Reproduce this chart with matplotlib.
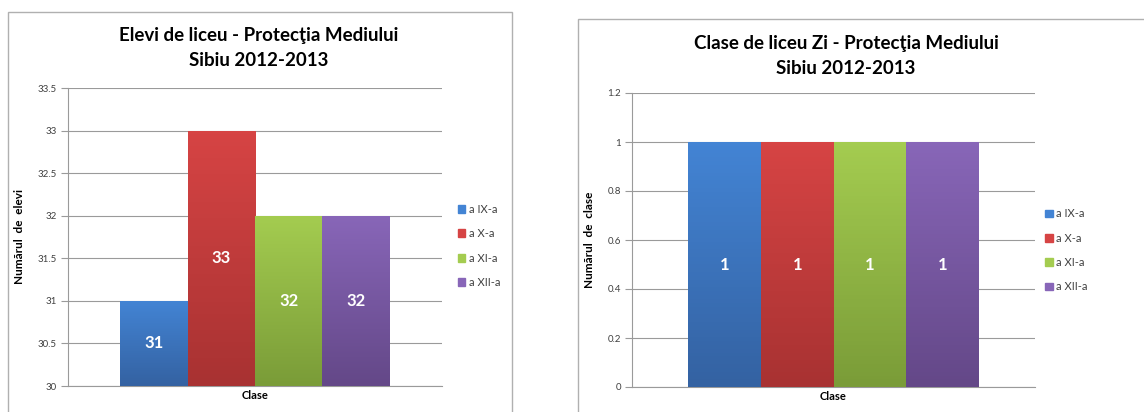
import matplotlib
matplotlib.use("Agg")
import matplotlib.pyplot as plt
import numpy as np
from matplotlib.patches import Rectangle, Patch
from matplotlib.colors import to_rgb

plt.rcParams['font.family'] = ['Lato', 'DejaVu Sans']

series = ["a IX-a", "a X-a", "a XI-a", "a XII-a"]
category = "Clase"
elevi = [31, 33, 32, 32]
clase = [1, 1, 1, 1]

top_colors = ["#4384d4", "#d64444", "#a4cc50", "#8866b8"]
bottom_colors = ["#3462a2", "#a83232", "#7a9c38", "#644888"]
grid_col = "#9a9a9a"
text_col = "#404040"


def gradient_bars(ax, values, ymin):
    width = 0.18
    offsets = (np.arange(len(values)) - (len(values) - 1) / 2) * width
    bars = ax.bar(offsets, np.array(values) - ymin, width, bottom=ymin,
                  color=top_colors, edgecolor="none", zorder=3)
    for b, c1, c2 in zip(bars, top_colors, bottom_colors):
        x0, y0 = b.get_x(), b.get_y()
        x1, y1 = x0 + b.get_width(), y0 + b.get_height()
        t = np.linspace(0, 1, 64)[:, None]
        a, z = np.array(to_rgb(c1)), np.array(to_rgb(c2))
        # row 0 = top colour
        img = (a * (1 - t) + z * t)[:, None, :].repeat(2, axis=1)
        im = ax.imshow(img, extent=[x0, x1, y0, y1], aspect="auto",
                       zorder=3.5, origin="upper")
        im.set_clip_path(b)
    return bars, offsets


def setup(fig, rect, values, ymin, ymax, step, ylabel, leg_anchor):
    ax = fig.add_axes(rect)
    bars, offsets = gradient_bars(ax, values, ymin)
    ax.set_xlim(-0.5, 0.5)
    ax.set_ylim(ymin, ymax)
    ticks = np.arange(ymin, ymax + step / 2, step)
    ax.set_yticks(ticks)
    ax.set_yticklabels([f"{t:g}" for t in ticks], fontsize=7, color=text_col)
    ax.set_xticks([0])
    ax.set_xticklabels([category], fontsize=8, fontweight="bold", color="black")
    ax.tick_params(axis="x", length=0, pad=3)
    ax.tick_params(axis="y", length=5, color=grid_col, pad=3)
    ax.yaxis.grid(True, color=grid_col, linewidth=0.8, zorder=0)
    for s in ["top", "right"]:
        ax.spines[s].set_visible(False)
    for s in ["left", "bottom"]:
        ax.spines[s].set_color(grid_col)
        ax.spines[s].set_linewidth(0.8)
    ax.set_ylabel(ylabel, fontsize=8.5, fontweight="bold", labelpad=9)
    for b, v in zip(bars, values):
        ax.text(b.get_x() + b.get_width() / 2, (ymin + v) / 2, str(v),
                ha="center", va="center", color="white", fontsize=12,
                fontweight="bold", zorder=5)
    handles = [Patch(facecolor=c, edgecolor=c) for c in top_colors]
    ax.legend(handles, series, loc="center left", bbox_to_anchor=leg_anchor,
              frameon=False, fontsize=8, handlelength=0.7, handleheight=0.7,
              handletextpad=0.3, labelspacing=1.2, labelcolor=text_col)
    return ax


fig = plt.figure(figsize=(11.44, 4.12), dpi=100)

# chart area borders
fig.patches.append(Rectangle((8 / 1144, -0.05), 504 / 1144, 1 - 12 / 412 + 0.05,
                             transform=fig.transFigure, fill=False,
                             edgecolor="#b0b0b0", linewidth=1))
fig.patches.append(Rectangle((578 / 1144, -0.05), 600 / 1144, 1 - 19 / 412 + 0.05,
                             transform=fig.transFigure, fill=False,
                             edgecolor="#b0b0b0", linewidth=1))

ax1 = setup(fig, [68 / 1144, 1 - 386 / 412, 374 / 1144, 298 / 412],
            elevi, 30, 33.5, 0.5, "Numărul  de  elevi", (1.015, 0.47))
ax2 = setup(fig, [632 / 1144, 1 - 387 / 412, 403 / 1144, 294 / 412],
            clase, 0, 1.2, 0.2, "Numărul  de  clase", (1.0, 0.465))

fig.text(259 / 1144, 1 - 48 / 412, "Elevi de liceu - Protecţia Mediului\nSibiu 2012-2013",
         ha="center", va="center", fontsize=13.5, fontweight="bold",
         linespacing=1.55)
fig.text(846 / 1144, 1 - 56 / 412, "Clase de liceu Zi - Protecţia Mediului\nSibiu 2012-2013",
         ha="center", va="center", fontsize=13.5, fontweight="bold",
         linespacing=1.5)

fig.savefig("out.png", dpi=100)
